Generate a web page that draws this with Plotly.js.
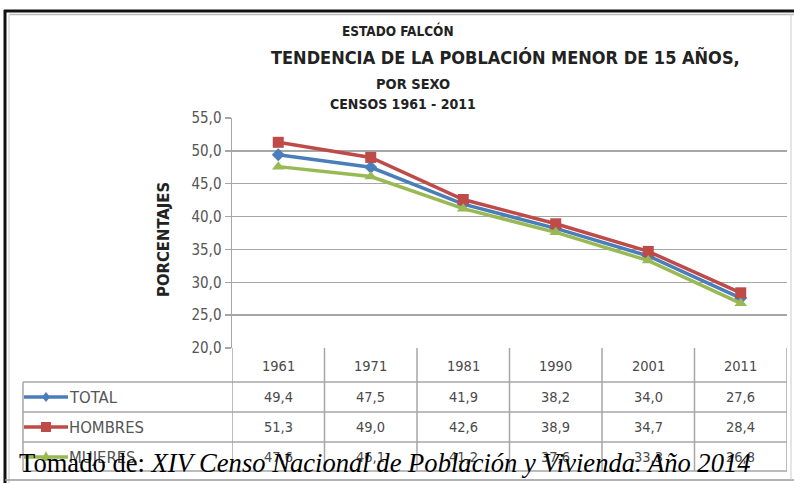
<!DOCTYPE html>
<html><head><meta charset="utf-8">
<script src="https://cdn.plot.ly/plotly-3.0.1.min.js"></script>
<style>body{margin:0;background:#fff}#c{width:794px;height:483px}</style>
</head><body><div id="c"></div>
<script>
var years = ['1961','1971','1981','1990','2001','2011'];
var total = [49.4, 47.5, 41.9, 38.2, 34.0, 27.6];
var hombres = [51.3, 49.0, 42.6, 38.9, 34.7, 28.4];
var mujeres = [47.6, 46.1, 41.2, 37.6, 33.3, 26.8];
var seriesNames = ['TOTAL','HOMBRES','MUJERES'];
var titleLines = ['ESTADO FALCÓN','TENDENCIA DE LA POBLACIÓN MENOR DE 15 AÑOS,','POR SEXO','CENSOS 1961 - 2011'];
var yTitle = 'PORCENTAJES';
var source = 'Tomado de: <i>XIV Censo Nacional de Población y Vivienda. Año 2014</i>';

var W = 794, H = 483;
function px(x){return x/W;}
function py(y){return 1 - y/H;}
var colors = ['#4A7EBB','#BE4B48','#98B954'];
var symbols = ['diamond','square','triangle-up'];
var msize = [10,11,11];
var data = [total, hombres, mujeres];
var FONT = '"DejaVu Sans Condensed", "Liberation Sans", Arial, sans-serif';

var traces = data.map(function(d,i){
  return {x: years, y: d, type:'scatter', mode:'lines+markers', name: seriesNames[i],
    line:{color:colors[i], width:3.5}, marker:{symbol:symbols[i], size:msize[i], color:colors[i]}, hoverinfo:'skip'};
});

var shapes = [], ann = [];
var gridC = '#a6a6a6';
function A(o){ o.showarrow=false; if(!o.xanchor) o.xanchor='center'; o.yanchor='middle'; ann.push(o); }
for (var k=0;k<=years.length;k++){
  shapes.push({type:'line', xref:'x', yref:'paper', x0:k-0.5, x1:k-0.5, y0:py(348), y1:py(471), line:{color:gridC,width:1.5}});
}
[382,412,442,471].forEach(function(yy){
  shapes.push({type:'line', xref:'paper', yref:'paper', x0:px(23), x1:px(787), y0:py(yy), y1:py(yy), line:{color:gridC,width:1.5}});
});
shapes.push({type:'line', xref:'paper', yref:'paper', x0:px(23), x1:px(23), y0:py(382), y1:py(471), line:{color:gridC,width:1.5}});
// frame
shapes.push({type:'line', xref:'paper', yref:'paper', x0:px(4), x1:1, y0:py(11), y1:py(11), line:{color:'#111',width:3}});
shapes.push({type:'line', xref:'paper', yref:'paper', x0:px(5), x1:px(5), y0:py(10), y1:0, line:{color:'#111',width:3}});
shapes.push({type:'line', xref:'paper', yref:'paper', x0:px(9), x1:1, y0:py(14.5), y1:py(14.5), line:{color:'#bbb',width:1.5}});
shapes.push({type:'line', xref:'paper', yref:'paper', x0:px(9), x1:px(9), y0:py(14), y1:0, line:{color:'#ddd',width:1.5}});
shapes.push({type:'line', xref:'paper', yref:'paper', x0:px(5), x1:1, y0:py(480), y1:py(480), line:{color:'#999',width:1.5}});
shapes.push({type:'line', xref:'paper', yref:'paper', x0:px(791), x1:px(791), y0:py(14), y1:py(480), line:{color:'#ccc',width:1}});

var TF = {family:FONT,size:14.5,color:'#4a4a4a'};
years.forEach(function(yr,j){
  A({xref:'x', yref:'paper', x:j, y:py(366), text:yr, font:TF});
});
var rowY = [397, 427, 457];
data.forEach(function(d,i){
  d.forEach(function(v,j){
    A({xref:'x', yref:'paper', x:j, y:py(rowY[i]), text:v.toFixed(1).replace('.',','), font:TF});
  });
  A({xref:'paper', yref:'paper', x:px(67), y:py(rowY[i]), xanchor:'left', text:seriesNames[i], font:{family:FONT,size:16.5,color:'#555'}});
  shapes.push({type:'line', xref:'paper', yref:'paper', x0:px(24), x1:px(68), y0:py(rowY[i]), y1:py(rowY[i]), line:{color:colors[i],width:3.5}});
});
var mx = 46;
shapes.push({type:'path', xref:'paper', yref:'paper', path:'M '+px(mx)+' '+py(397-5)+' L '+px(mx+4)+' '+py(397)+' L '+px(mx)+' '+py(397+5)+' L '+px(mx-4)+' '+py(397)+' Z', fillcolor:colors[0], line:{width:0}});
shapes.push({type:'rect', xref:'paper', yref:'paper', x0:px(mx-5), x1:px(mx+5), y0:py(427-5), y1:py(427+5), fillcolor:colors[1], line:{width:0}});
shapes.push({type:'path', xref:'paper', yref:'paper', path:'M '+px(mx)+' '+py(457-6)+' L '+px(mx+5)+' '+py(457+4)+' L '+px(mx-5)+' '+py(457+4)+' Z', fillcolor:colors[2], line:{width:0}});

var tpos = [[398,30,13.5],[505,57,18],[413,84,14.5],[403,104,14]];
titleLines.forEach(function(t,i){
  A({xref:'paper', yref:'paper', x:px(tpos[i][0]), y:py(tpos[i][1]), text:'<b>'+t+'</b>', font:{family:FONT,size:tpos[i][2],color:'#222'}});
});
A({xref:'paper', yref:'paper', x:px(163), y:py(240), text:'<b>'+yTitle+'</b>', textangle:-90, font:{family:FONT,size:16.5,color:'#222'}});
A({xref:'paper', yref:'paper', x:px(17), y:py(463), xanchor:'left', text:source, font:{family:'"Liberation Serif", "DejaVu Serif", serif',size:26.6,color:'#000'}});

var layout = {
  width:W, height:H, margin:{l:0,r:0,t:0,b:0}, paper_bgcolor:'#fff', plot_bgcolor:'#fff',
  showlegend:false, separators:',.',
  xaxis:{type:'category', domain:[px(232),px(787)], range:[-0.5,5.5], showticklabels:false, showgrid:false, zeroline:false, showline:false, ticks:''},
  yaxis:{domain:[py(348),py(118)], range:[20,55], dtick:5, tick0:20, tickformat:'.1f', showgrid:true, gridcolor:gridC, gridwidth:1.5,
    zeroline:false, showline:true, linecolor:gridC, linewidth:1.5, ticks:'outside', ticklen:6, tickcolor:gridC, tickwidth:1.5,
    tickfont:{family:FONT,size:15,color:'#555'}},
  shapes:shapes, annotations:ann
};
Plotly.newPlot('c', traces, layout, {staticPlot:true});
</script></body></html>
